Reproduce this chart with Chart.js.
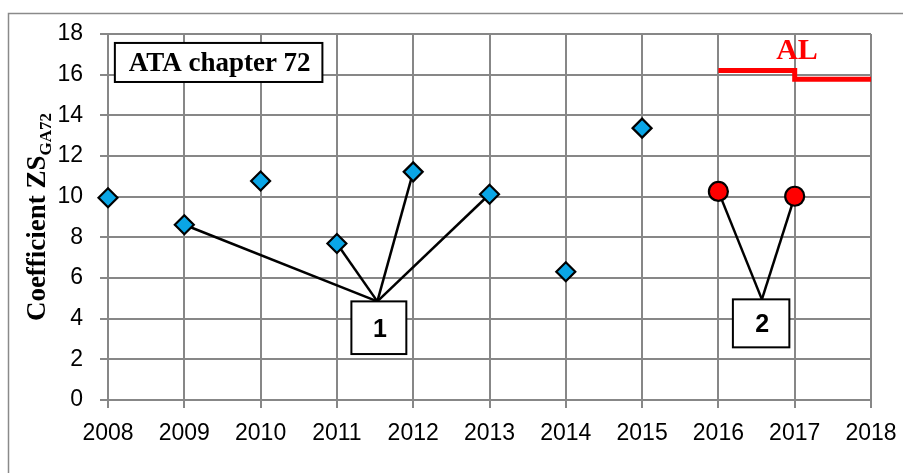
<!DOCTYPE html>
<html>
<head>
<meta charset="utf-8">
<script src="https://cdn.jsdelivr.net/npm/chart.js@4"></script>
<style>
  html, body { margin: 0; padding: 0; background: #fff; }
  #wrap { width: 903px; height: 473px; }
</style>
</head>
<body>
<div id="wrap"><canvas id="chart"></canvas></div>
<script>
// valeurs
var years = [2008, 2009, 2010, 2011, 2012, 2013, 2014, 2015];
var zsValues = [9.95, 8.62, 10.77, 7.7, 11.22, 10.12, 6.31, 13.37];
var redYears = [2016, 2017];
var redValues = [10.26, 10.02];
var alYears = [2016, 2017, 2018];
var alValues = [16.2, 15.78, 15.78];
var xTicks = [2008, 2009, 2010, 2011, 2012, 2013, 2014, 2015, 2016, 2017, 2018];
var yTicks = [0, 2, 4, 6, 8, 10, 12, 14, 16, 18];

// repères : quels points sont reliés à quelle étiquette
var group1Years = [2009, 2011, 2012, 2013];
var group2Years = [2016, 2017];

// étiquettes (en unités des axes)
var labelBoxes = [
  { text: "1", left: 2011.19, right: 2011.91, top: 4.85, bottom: 2.26, apex: 2011.53 },
  { text: "2", left: 2016.19, right: 2016.93, top: 4.95, bottom: 2.59, apex: 2016.57 }
];
var titleBox = { text: "ATA chapter 72", left: 2008.09, right: 2010.81, top: 17.56, bottom: 15.64 };
var alLabel = { text: "AL", x: 2017.03, y: 16.75 };

function toPoints(xs, ys) {
  return xs.map(function (x, i) { return { x: x, y: ys[i] }; });
}

function valueAt(xs, ys, x) {
  return ys[xs.indexOf(x)];
}

// lignes de rappel entre une étiquette et ses points
function leaderDatasets(box, groupYears, xs, ys) {
  return groupYears.map(function (yr) {
    return {
      type: "line",
      data: [{ x: box.apex, y: box.top }, { x: yr, y: valueAt(xs, ys, yr) }],
      borderColor: "#000",
      borderWidth: 2.5,
      pointRadius: 0,
      fill: false,
      clip: false
    };
  });
}

var datasets = [
  {
    type: "scatter",
    data: toPoints(years, zsValues),
    pointStyle: "rectRot",
    pointRadius: 9.5,
    pointHoverRadius: 9.5,
    backgroundColor: "#0aa6e6",
    borderColor: "#000",
    borderWidth: 2.2,
    clip: false
  },
  {
    type: "scatter",
    data: toPoints(redYears, redValues),
    pointStyle: "circle",
    pointRadius: 9.5,
    pointHoverRadius: 9.5,
    backgroundColor: "#ff0000",
    borderColor: "#000",
    borderWidth: 2.2,
    clip: false
  },
  {
    type: "line",
    data: toPoints(alYears, alValues),
    stepped: true,
    borderColor: "#ff0000",
    borderWidth: 5,
    pointRadius: 0,
    fill: false,
    clip: false
  }
].concat(
  leaderDatasets(labelBoxes[0], group1Years, years, zsValues),
  leaderDatasets(labelBoxes[1], group2Years, redYears, redValues)
);

// cadre extérieur, boîtes de texte et titre de l'axe Y
var decorPlugin = {
  id: "decor",
  beforeDraw: function (chart) {
    var ctx = chart.ctx;
    ctx.save();
    ctx.strokeStyle = "#8a8a8a";
    ctx.lineWidth = 1.5;
    ctx.strokeRect(8.5, 13.5, 1000, 1000);
    ctx.restore();
  },
  afterDraw: function (chart) {
    var ctx = chart.ctx;
    var xs = chart.scales.x, ys = chart.scales.y;

    function drawBox(b, font) {
      var l = xs.getPixelForValue(b.left), r = xs.getPixelForValue(b.right);
      var t = ys.getPixelForValue(b.top), bt = ys.getPixelForValue(b.bottom);
      ctx.fillStyle = "#fff";
      ctx.fillRect(l, t, r - l, bt - t);
      ctx.strokeStyle = "#000";
      ctx.lineWidth = 2;
      ctx.strokeRect(l, t, r - l, bt - t);
      ctx.fillStyle = "#000";
      ctx.font = font;
      ctx.textAlign = "center";
      ctx.textBaseline = "middle";
      ctx.fillText(b.text, (l + r) / 2 + 1, (t + bt) / 2 + 2);
    }

    ctx.save();
    drawBox(titleBox, "bold 27px 'Liberation Serif'");
    labelBoxes.forEach(function (b) {
      drawBox(b, "bold 25px 'Liberation Sans'");
    });

    // AL
    ctx.fillStyle = "#ff0000";
    ctx.font = "bold 30px 'Liberation Serif'";
    ctx.textAlign = "center";
    ctx.textBaseline = "alphabetic";
    ctx.fillText(alLabel.text, xs.getPixelForValue(alLabel.x), ys.getPixelForValue(alLabel.y));

    // titre Y avec indice
    var mainTxt = "Coefficient ZS", subTxt = "GA72";
    var mainFont = "bold 27px 'Liberation Serif'", subFont = "bold 17px 'Liberation Serif'";
    ctx.font = mainFont;
    var w1 = ctx.measureText(mainTxt).width;
    ctx.font = subFont;
    var w2 = ctx.measureText(subTxt).width;
    var cy = (chart.chartArea.top + chart.chartArea.bottom) / 2;
    ctx.translate(45, cy);
    ctx.rotate(-Math.PI / 2);
    ctx.fillStyle = "#000";
    ctx.textAlign = "left";
    var start = -(w1 + w2) / 2;
    ctx.font = mainFont;
    ctx.fillText(mainTxt, start, 0);
    ctx.font = subFont;
    ctx.fillText(subTxt, start + w1, 6);
    ctx.restore();
  }
};

var ctx = document.getElementById("chart").getContext("2d");
var myChart = new Chart(ctx, {
  type: "scatter",
  data: { datasets: datasets },
  plugins: [decorPlugin],
  options: {
    responsive: true,
    maintainAspectRatio: false,
    animation: false,
    layout: { padding: { left: 0, top: 34, right: 32, bottom: 0 } },
    plugins: {
      legend: { display: false },
      tooltip: { enabled: false }
    },
    scales: {
      x: {
        type: "linear",
        min: 2008,
        max: 2018,
        afterFit: function (scale) {
          scale.height = 73;
          scale.paddingLeft = 0;
          scale.paddingRight = 0;
        },
        afterBuildTicks: function (scale) {
          scale.ticks = xTicks.map(function (v) { return { value: v }; });
        },
        ticks: {
          color: "#000",
          font: { family: "'Liberation Sans'", size: 23 },
          padding: 12,
          callback: function (v) { return String(v); }
        },
        grid: { color: "#878787", lineWidth: 2, tickLength: 8, tickColor: "#878787" },
        border: { display: false }
      },
      y: {
        min: 0,
        max: 18,
        afterFit: function (scale) {
          scale.width = 108;
          scale.paddingTop = 0;
          scale.paddingBottom = 0;
        },
        afterBuildTicks: function (scale) {
          scale.ticks = yTicks.map(function (v) { return { value: v }; });
        },
        ticks: {
          color: "#000",
          font: { family: "'Liberation Sans'", size: 23 },
          padding: 17
        },
        grid: { color: "#878787", lineWidth: 2, tickLength: 8, tickColor: "#878787" },
        border: { display: false }
      }
    }
  }
});
</script>
</body>
</html>
